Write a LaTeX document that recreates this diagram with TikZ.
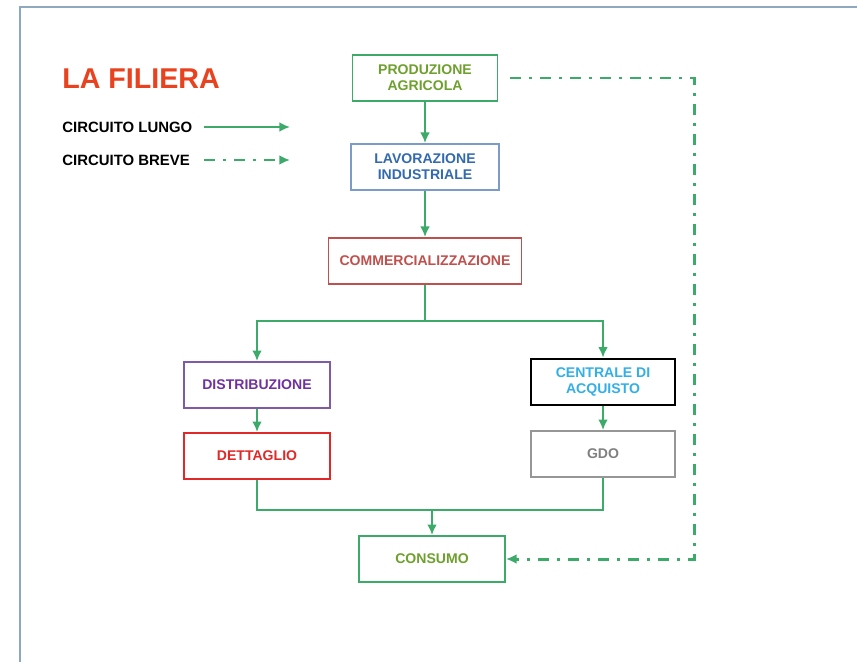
\documentclass[tikz,border=0pt]{standalone}
\usepackage{fontspec}
\setmainfont{Liberation Sans}
\usetikzlibrary{arrows.meta}

\definecolor{cornice}{RGB}{142,168,192}
\definecolor{verde}{RGB}{60,170,105}
\definecolor{verdetesto}{RGB}{110,160,45}
\definecolor{titolorosso}{RGB}{232,66,30}
\definecolor{blubordo}{RGB}{125,155,200}
\definecolor{blutesto}{RGB}{50,105,175}
\definecolor{rossoscuro}{RGB}{192,80,77}
\definecolor{viola}{RGB}{128,90,165}
\definecolor{violatesto}{RGB}{112,48,160}
\definecolor{rosso}{RGB}{225,40,40}
\definecolor{celeste}{RGB}{50,175,230}
\definecolor{grigio}{RGB}{150,150,150}
\definecolor{grigiotesto}{RGB}{128,128,128}

\begin{document}
\begin{tikzpicture}[
    x=0.02cm, y=-0.02cm,
    box/.style={draw, line width=1.1pt, align=center, inner sep=2pt,
        font=\bfseries\fontsize{8}{9.1}\selectfont, minimum height=0.92cm},
    flow/.style={verde, line width=1.1pt},
    arrowtip/.style={-{Latex[length=6pt,width=5.5pt]}},
    breve/.style={verde, line width=1.7pt,
        dash pattern=on 0.22cm off 0.16cm on 0.06cm off 0.16cm},
    legenda/.style={font=\bfseries\fontsize{8.5}{10}\selectfont, inner sep=0pt}
]
\useasboundingbox (0,0) rectangle (857,662);

% frame
\draw[cornice, line width=1.1pt] (20,662) -- (20,7) -- (857,7);

% title and legend
\node[anchor=west, inner sep=0pt, text=titolorosso,
      font=\bfseries\fontsize{16.3}{18}\selectfont] (titolo) at (62,79) {LA FILIERA};
\node[legenda, anchor=west] (lungo) at (62,127) {CIRCUITO LUNGO};
\node[legenda, anchor=west] (breve) at (62,160) {CIRCUITO BREVE};
\coordinate (lungoEnd) at (290,127);
\coordinate (breveEnd) at (290,160);
\draw[flow, arrowtip, shorten <=0.22cm] (lungo.east) -- (lungoEnd);
\draw[breve, arrowtip, shorten <=0.28cm] (breve.east) -- (breveEnd);

% long circuit
\node[box, draw=verde, text=verdetesto, minimum width=2.9cm] (prod) at (425,78) {PRODUZIONE\\AGRICOLA};
\node[box, draw=blubordo, text=blutesto, minimum width=2.96cm] (lav) at (425,167) {LAVORAZIONE\\INDUSTRIALE};
\node[box, draw=rossoscuro, text=rossoscuro, minimum width=3.86cm] (comm) at (425,261) {COMMERCIALIZZAZIONE};
\node[box, draw=viola, text=violatesto, minimum width=2.92cm] (dist) at (257,385) {DISTRIBUZIONE};
\node[box, draw=rosso, text=rosso, minimum width=2.92cm] (dett) at (257,456) {DETTAGLIO};
\node[box, draw=black, line width=1.6pt, text=celeste, minimum width=2.88cm] (cent) at (603,382) {CENTRALE DI\\ACQUISTO};
\node[box, draw=grigio, text=grigiotesto, minimum width=2.88cm] (gdo) at (603,454) {GDO};
\node[box, draw=verde, text=verdetesto, minimum width=2.92cm] (cons) at (432,559) {CONSUMO};

\coordinate (split) at (425,321);
\coordinate (join) at (432,510);

\draw[flow, arrowtip] (prod) -- (lav);
\draw[flow, arrowtip] (lav) -- (comm);
\draw[flow] (comm) -- (split);
\draw[flow, arrowtip] (split) -| (dist);
\draw[flow, arrowtip] (split) -| (cent);
\draw[flow, arrowtip] (dist) -- (dett);
\draw[flow, arrowtip] (cent) -- (gdo);
\draw[flow] (dett) |- (join);
\draw[flow] (gdo) |- (join);
\draw[flow, arrowtip] (join) -- (cons);

% short circuit
\coordinate (breveA) at (694,78);
\coordinate (breveB) at (694,559);
\draw[breve, arrowtip, shorten <=0.24cm] (prod.east) -- (breveA) -- (breveB) -- (cons.east);

\end{tikzpicture}
\end{document}
